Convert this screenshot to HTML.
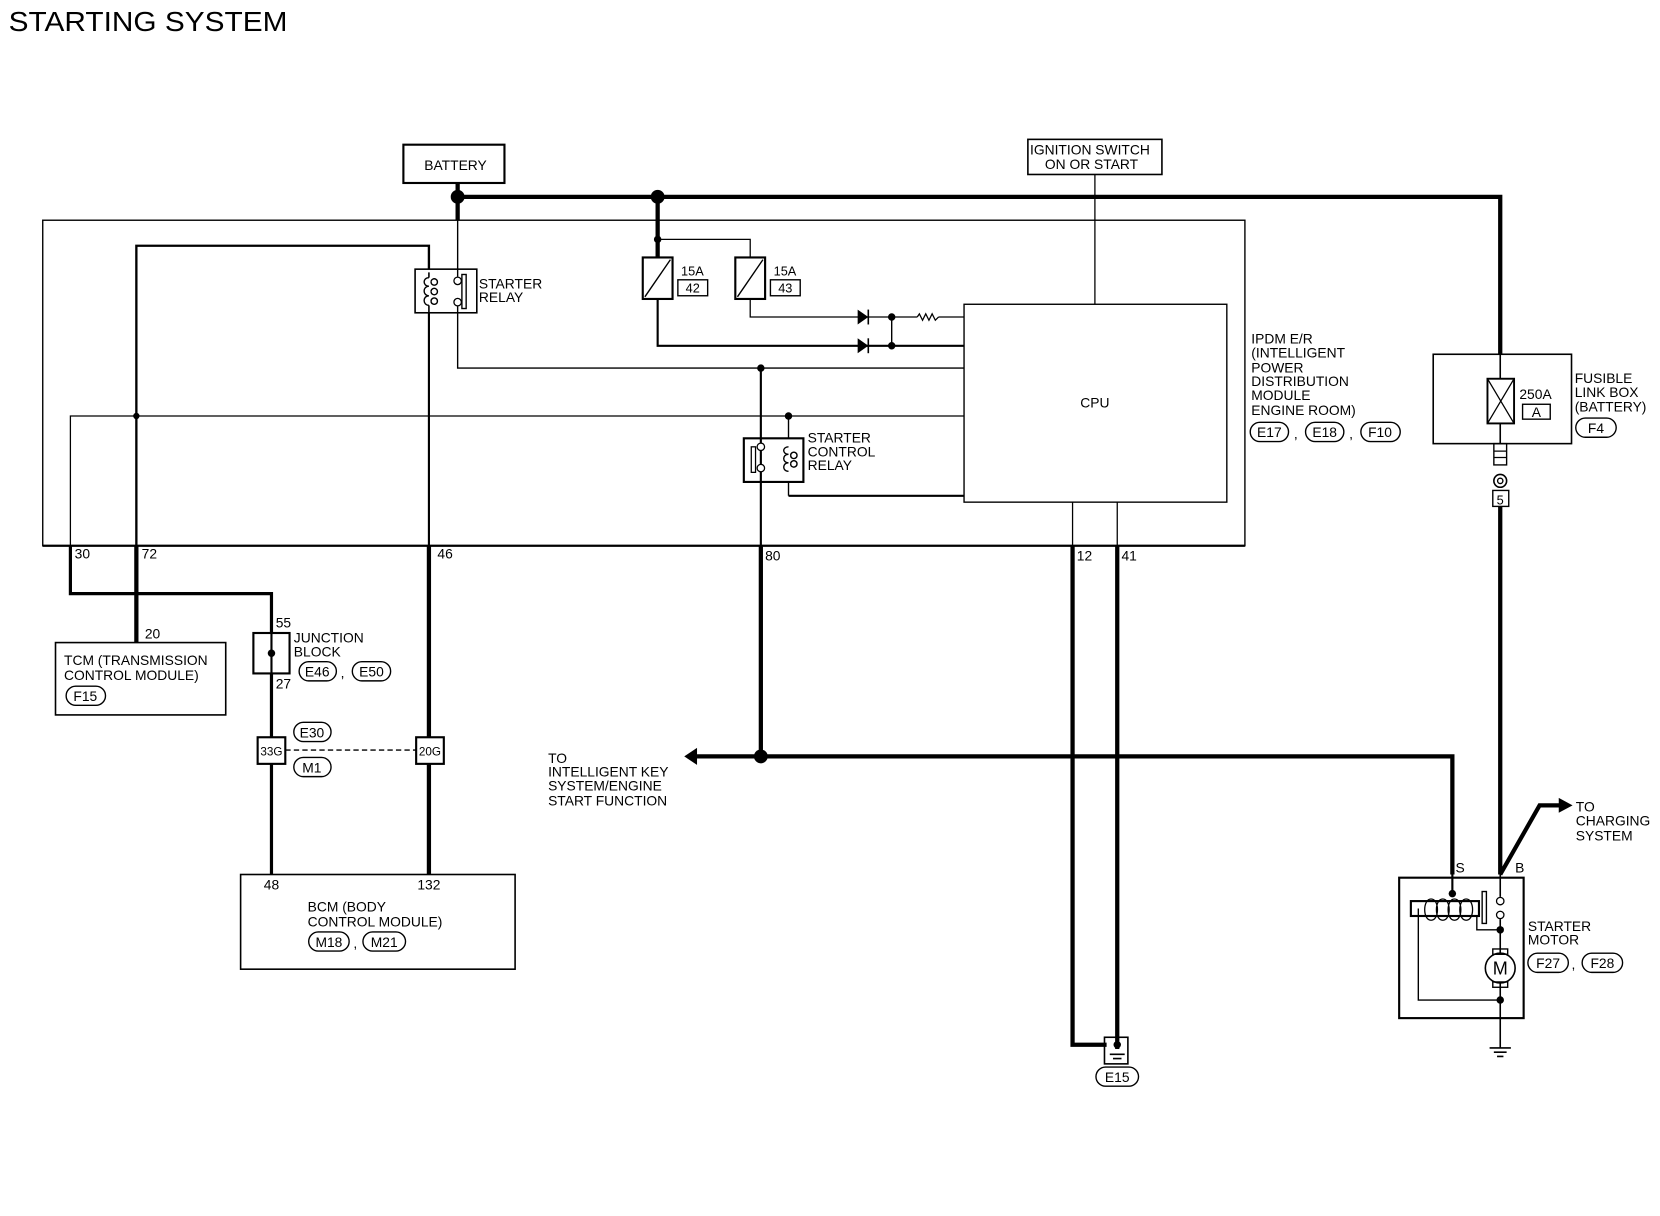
<!DOCTYPE html>
<html><head><meta charset="utf-8"><style>
html,body{margin:0;padding:0;background:#fff;}
svg{display:block}
text{font-family:"Liberation Sans",Arial,sans-serif;font-size:13px;fill:#000}
</style></head><body>
<svg width="1660" height="1216" viewBox="0 0 1560 1143" xmlns="http://www.w3.org/2000/svg">
<rect width="1560" height="1143" fill="#fff"/>
<text x="8" y="29" textLength="262" lengthAdjust="spacingAndGlyphs" style="font-size:26px;font-weight:bold;font-weight:normal">STARTING SYSTEM</text>
<g fill="none" stroke="#000">
<rect x="379" y="136" width="95" height="36" stroke-width="2"/>
<path d="M430 172V207 M430 185H1410V333 M618 185V242" stroke-width="4"/>
<rect x="40" y="207" width="1130" height="306" stroke-width="1.3"/>
<line x1="40" y1="513" x2="1170" y2="513" stroke-width="2.2"/>
<rect x="390" y="253" width="58" height="41" stroke-width="1.5"/>
<path d="M430 207V260 M430 288V346H906" stroke-width="1.3"/>
<path d="M128 513V231H403V253" stroke-width="2.2"/>
<path d="M403 294V513" stroke-width="2"/>
<rect x="434" y="258" width="4" height="32" stroke-width="1.3"/>
<path d="M403 256V261 M403 287V294" stroke-width="1.5"/>
<path d="M403 261c-6 0-6 8 0 8c-6 0-6 9 0 9c-6 0-6 9 0 9 M405 265a3 3 0 1 1 0 .1 M405 274a3 3 0 1 1 0 .1 M405 283a3 3 0 1 1 0 .1" stroke-width="1.3"/>
<path d="M66 513V391H906" stroke-width="1.2"/>
<path d="M618 242V225H705V242" stroke-width="1.2"/>
<path d="M618 229V242" stroke-width="2.5"/>
<rect x="604" y="242" width="28" height="39" stroke-width="2"/>
<line x1="606" y1="279" x2="630" y2="244" stroke-width="1.3"/>
<rect x="691" y="242" width="28" height="39" stroke-width="2"/>
<line x1="693" y1="279" x2="717" y2="244" stroke-width="1.3"/>
<rect x="637" y="263" width="28" height="15" stroke-width="1.3"/>
<rect x="724" y="263" width="28" height="15" stroke-width="1.3"/>
<path d="M618 281V325H906" stroke-width="2"/>
<path d="M705 281V298H862 M882 298H906" stroke-width="1.2"/>
<path d="M838 298V325" stroke-width="1.3"/>
<path d="M862 298l2-3l3 6l3-6l3 6l3-6l3 6l3-3" stroke-width="1.2"/>
<line x1="816" y1="291" x2="816" y2="305" stroke-width="1.5"/>
<line x1="816" y1="318" x2="816" y2="332" stroke-width="1.5"/>
<rect x="906" y="286" width="247" height="186" stroke-width="1.3"/>
<path d="M1029 164V286" stroke-width="1.2"/>
<rect x="966" y="131" width="126" height="33" stroke-width="1.5"/>
<path d="M715 346V513" stroke-width="2"/>
<rect x="699" y="412" width="56" height="41" stroke-width="2"/>
<path d="M741 391V412 M741 453V466" stroke-width="1.3"/>
<path d="M741 466H906" stroke-width="2"/>
<rect x="706" y="420" width="4" height="24" stroke-width="1.2"/>
<path d="M741 420c-6 0-6 7 0 7c-6 0-6 8 0 8c-6 0-6 8 0 8 M743 428a3 3 0 1 1 0 .1 M743 436a3 3 0 1 1 0 .1" stroke-width="1.3"/>
<path d="M1008 472V513 M1050 472V513" stroke-width="1.2"/>
<path d="M66 513V558H255V595" stroke-width="3"/>
<path d="M128 513V604" stroke-width="4"/>
<path d="M403 513V693 M403 718V822" stroke-width="4"/>
<path d="M255 633V693 M255 718V822" stroke-width="3"/>
<path d="M715 513V711" stroke-width="4"/>
<path d="M655 711H1365V822" stroke-width="4"/>
<path d="M1008 513V982H1040 M1050 513V986" stroke-width="4"/>
<rect x="238" y="595" width="34" height="38" stroke-width="2"/>
<line x1="255" y1="595" x2="255" y2="633" stroke-width="2"/>
<rect x="242" y="693" width="26" height="25" stroke-width="2"/>
<rect x="391" y="693" width="26" height="25" stroke-width="2"/>
<line x1="268" y1="705" x2="391" y2="705" stroke-width="1.3" stroke-dasharray="5,3"/>
<rect x="52" y="604" width="160" height="68" stroke-width="1.5"/>
<rect x="226" y="822" width="258" height="89" stroke-width="1.5"/>
<rect x="1038" y="975" width="22" height="25" stroke-width="1.5"/>
<path d="M1043 991H1057 M1046 995H1054" stroke-width="1.5"/>
<rect x="1347" y="333" width="130" height="84" stroke-width="1.5"/>
<path d="M1410 333V356 M1410 398V417" stroke-width="1.5"/>
<rect x="1398" y="356" width="25" height="42" stroke-width="1.8"/>
<path d="M1398 356L1423 398 M1423 356L1398 398" stroke-width="1.2"/>
<rect x="1431" y="380" width="26" height="14" stroke-width="1.3"/>
<rect x="1404" y="417" width="12" height="20" stroke-width="1.3"/>
<path d="M1404 424H1416 M1404 430H1416" stroke-width="1.2"/>
<circle cx="1410" cy="452" r="6" stroke-width="1.5"/>
<circle cx="1410" cy="452" r="2.5" stroke-width="1.3"/>
<rect x="1403" y="461" width="15" height="15" stroke-width="1.3"/>
<path d="M1410 476V822 M1410 822L1447 757H1467" stroke-width="4"/>
<rect x="1315" y="825" width="117" height="132" stroke-width="2"/>
<path d="M1410 822V843 M1410 864V896 M1410 924V985" stroke-width="1.5"/>
<path d="M1365 822V838" stroke-width="2"/>
<rect x="1326" y="847" width="64" height="14" stroke-width="2"/>
<rect x="1393" y="838" width="4" height="30" stroke-width="1.3"/>
<path d="M1345 845c-8 0-8 20 0 20c8 0 8-20 0-20 M1356 845c-8 0-8 20 0 20c8 0 8-20 0-20 M1367 845c-8 0-8 20 0 20c8 0 8-20 0-20 M1378 845c-8 0-8 20 0 20c8 0 8-20 0-20" stroke-width="1.2"/>
<path d="M1388 861V874H1410 M1333 854V940H1410" stroke-width="1.3"/>
<circle cx="1410" cy="910" r="14" stroke-width="1.5"/>
<rect x="1403" y="892" width="14" height="5" stroke-width="1.3"/>
<rect x="1403" y="923" width="14" height="5" stroke-width="1.3"/>
<path d="M1400 985H1420 M1404 989H1416 M1407 993H1413" stroke-width="1.5"/>
<g stroke-width="1.3">
<rect x="281" y="622" width="35" height="18" rx="9"/>
<rect x="331" y="622" width="36" height="18" rx="9"/>
<rect x="276" y="679" width="35" height="18" rx="9"/>
<rect x="276" y="712" width="35" height="18" rx="9"/>
<rect x="62" y="645" width="37" height="18" rx="9"/>
<rect x="290" y="876" width="38" height="18" rx="9"/>
<rect x="341" y="876" width="40" height="18" rx="9"/>
<rect x="1175" y="397" width="36" height="18" rx="9"/>
<rect x="1227" y="397" width="36" height="18" rx="9"/>
<rect x="1279" y="397" width="37" height="18" rx="9"/>
<rect x="1481" y="393" width="38" height="18" rx="9"/>
<rect x="1030" y="1003" width="40" height="18" rx="9"/>
<rect x="1436" y="896" width="38" height="18" rx="9"/>
<rect x="1487" y="896" width="38" height="18" rx="9"/>
</g>
</g>
<g fill="#000">
<circle cx="430" cy="185" r="6.5"/>
<circle cx="618" cy="185" r="6.5"/>
<circle cx="618" cy="225" r="3.5"/>
<circle cx="838" cy="298" r="3.5"/>
<circle cx="838" cy="325" r="3.5"/>
<circle cx="715" cy="346" r="3.5"/>
<circle cx="128" cy="391" r="3"/>
<circle cx="741" cy="391" r="3.5"/>
<circle cx="255" cy="614" r="3.5"/>
<circle cx="715" cy="711" r="6.5"/>
<circle cx="1050" cy="982" r="3.5"/>
<circle cx="1365" cy="840" r="3.5"/>
<circle cx="1410" cy="874" r="3.5"/>
<circle cx="1410" cy="940" r="3.5"/>
<polygon points="806,291 816,298 806,305"/>
<polygon points="806,318 816,325 806,332"/>
<polygon points="643,711 655,703 655,719"/>
<polygon points="1478,757 1465,750 1465,764"/>
</g>
<g fill="#fff" stroke="#000" stroke-width="1.2">
<circle cx="430" cy="264" r="3.5"/>
<circle cx="430" cy="284" r="3.5"/>
<circle cx="715" cy="420" r="3.5"/>
<circle cx="715" cy="440" r="3.5"/>
<circle cx="1410" cy="847" r="3.5"/>
<circle cx="1410" cy="860" r="3.5"/>
</g>
<text x="428" y="160" text-anchor="middle">BATTERY</text>
<text x="968" y="145">IGNITION SWITCH</text>
<text x="982" y="159">ON OR START</text>
<text x="450" y="271">STARTER</text>
<text x="450" y="284">RELAY</text>
<text x="640" y="259" style="font-size:12px">15A</text>
<text x="651" y="275" text-anchor="middle" style="font-size:12px">42</text>
<text x="727" y="259" style="font-size:12px">15A</text>
<text x="738" y="275" text-anchor="middle" style="font-size:12px">43</text>
<text x="1029" y="383" text-anchor="middle">CPU</text>
<text x="759" y="416">STARTER</text>
<text x="759" y="429">CONTROL</text>
<text x="759" y="442">RELAY</text>
<text x="1176" y="323">IPDM E/R</text>
<text x="1176" y="336">(INTELLIGENT</text>
<text x="1176" y="350">POWER</text>
<text x="1176" y="363">DISTRIBUTION</text>
<text x="1176" y="376">MODULE</text>
<text x="1176" y="390">ENGINE ROOM)</text>
<text x="1193" y="411" text-anchor="middle">E17</text>
<text x="1216" y="412">,</text>
<text x="1245" y="411" text-anchor="middle">E18</text>
<text x="1268" y="412">,</text>
<text x="1297" y="411" text-anchor="middle">F10</text>
<text x="1428" y="375">250A</text>
<text x="1444" y="392" text-anchor="middle">A</text>
<text x="1480" y="360">FUSIBLE</text>
<text x="1480" y="373">LINK BOX</text>
<text x="1480" y="387">(BATTERY)</text>
<text x="1500" y="407" text-anchor="middle">F4</text>
<text x="1410" y="474" text-anchor="middle" style="font-size:12px">5</text>
<text x="70" y="525">30</text>
<text x="133" y="525">72</text>
<text x="411" y="525">46</text>
<text x="719" y="527">80</text>
<text x="1012" y="527">12</text>
<text x="1054" y="527">41</text>
<text x="136" y="600">20</text>
<text x="60" y="625">TCM (TRANSMISSION</text>
<text x="60" y="639">CONTROL MODULE)</text>
<text x="80" y="659" text-anchor="middle">F15</text>
<text x="259" y="590">55</text>
<text x="259" y="647">27</text>
<text x="276" y="604">JUNCTION</text>
<text x="276" y="617">BLOCK</text>
<text x="298" y="636" text-anchor="middle">E46</text>
<text x="320" y="637">,</text>
<text x="349" y="636" text-anchor="middle">E50</text>
<text x="293" y="693" text-anchor="middle">E30</text>
<text x="293" y="726" text-anchor="middle">M1</text>
<text x="255" y="710" text-anchor="middle" style="font-size:11px">33G</text>
<text x="404" y="710" text-anchor="middle" style="font-size:11px">20G</text>
<text x="255" y="836" text-anchor="middle">48</text>
<text x="403" y="836" text-anchor="middle">132</text>
<text x="289" y="857">BCM (BODY</text>
<text x="289" y="871">CONTROL MODULE)</text>
<text x="309" y="890" text-anchor="middle">M18</text>
<text x="332" y="891">,</text>
<text x="361" y="890" text-anchor="middle">M21</text>
<text x="515" y="717">TO</text>
<text x="515" y="730">INTELLIGENT KEY</text>
<text x="515" y="743">SYSTEM/ENGINE</text>
<text x="515" y="757">START FUNCTION</text>
<text x="1050" y="1017" text-anchor="middle">E15</text>
<text x="1481" y="763">TO</text>
<text x="1481" y="776">CHARGING</text>
<text x="1481" y="790">SYSTEM</text>
<text x="1368" y="820">S</text>
<text x="1424" y="820">B</text>
<text x="1436" y="875">STARTER</text>
<text x="1436" y="888">MOTOR</text>
<text x="1455" y="910" text-anchor="middle">F27</text>
<text x="1477" y="911">,</text>
<text x="1506" y="910" text-anchor="middle">F28</text>
<text x="1410" y="916" text-anchor="middle" style="font-size:17px">M</text>
</svg>
</body></html>
